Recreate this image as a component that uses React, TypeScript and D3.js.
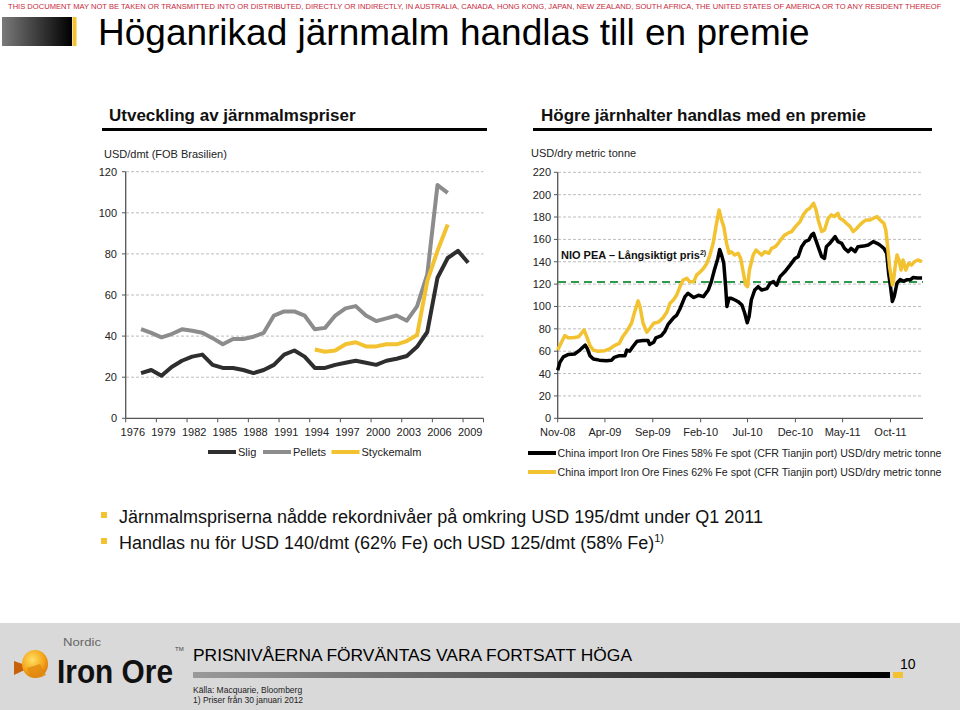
import React, { useLayoutEffect, useRef } from 'react';
import * as d3 from 'd3';

const FONT = '"Liberation Sans", Arial, Helvetica, sans-serif';

// ---------- Left chart data (USD/dmt FOB Brasilien) ----------
const catYears = [1976, 1977, 1978, 1979, 1980, 1981, 1982, 1983, 1984, 1985, 1986, 1987, 1988, 1989, 1990, 1991, 1992, 1993, 1994, 1995, 1996, 1997, 1998, 1999, 2000, 2001, 2002, 2003, 2004, 2005, 2006, 2007, 2008, 2009, 2010];
const leftTickYears = [1976, 1979, 1982, 1985, 1988, 1991, 1994, 1997, 2000, 2003, 2006, 2009];
const leftYTicks = [0, 20, 40, 60, 80, 100, 120];

const sligStart = 1977;
const sligValues = [22, 23.5, 20.7, 25, 28, 30, 31, 26, 24.5, 24.5, 23.5, 22, 23.5, 26, 31, 33, 30, 24.5, 24.5, 26, 27, 28, 27, 26, 28, 29, 30.3, 34.8, 42, 68.4, 78, 81.5, 75.7];
const pelletsStart = 1977;
const pelletsValues = [43.4, 41.6, 39.4, 41, 43.3, 42.6, 41.6, 39, 36, 38.6, 38.6, 39.7, 41.6, 50, 52, 52, 50, 43.3, 44, 50, 53.5, 54.6, 50, 47.3, 48.6, 50, 47.5, 54.5, 70, 113.5, 109.7];
const styckeStart = 1994;
const styckeValues = [33.5, 32.4, 33, 36, 37, 35, 35, 36, 36, 37.6, 40.5, 66.7, 81.5, 94.3];

const leftLegend = ['Slig', 'Pellets', 'Styckemalm'];

// ---------- Right chart data (USD/dry metric tonne) ----------
const fe58Dates = ['2008-11-01', '2008-11-08', '2008-11-19', '2008-12-04', '2008-12-25', '2009-01-11', '2009-01-22', '2009-01-28', '2009-02-04', '2009-02-12', '2009-02-23', '2009-03-14', '2009-04-05', '2009-04-22', '2009-05-01', '2009-05-17', '2009-06-04', '2009-06-10', '2009-06-19', '2009-06-29', '2009-07-13', '2009-08-01', '2009-08-17', '2009-08-22', '2009-09-04', '2009-09-11', '2009-09-29', '2009-10-10', '2009-10-20', '2009-11-07', '2009-11-16', '2009-11-27', '2009-12-13', '2009-12-23', '2010-01-10', '2010-01-25', '2010-02-10', '2010-02-26', '2010-03-07', '2010-03-17', '2010-03-28', '2010-04-03', '2010-04-09', '2010-04-16', '2010-04-22', '2010-04-26', '2010-05-03', '2010-05-10', '2010-05-22', '2010-06-01', '2010-06-13', '2010-06-22', '2010-06-30', '2010-07-06', '2010-07-13', '2010-07-24', '2010-08-04', '2010-08-15', '2010-09-01', '2010-09-11', '2010-09-22', '2010-10-02', '2010-10-13', '2010-10-28', '2010-11-14', '2010-11-30', '2010-12-10', '2010-12-21', '2011-01-01', '2011-01-13', '2011-01-22', '2011-01-28', '2011-02-08', '2011-02-23', '2011-03-04', '2011-03-10', '2011-03-21', '2011-04-07', '2011-04-16', '2011-04-28', '2011-05-07', '2011-05-19', '2011-05-28', '2011-06-10', '2011-06-19', '2011-07-07', '2011-07-22', '2011-08-07', '2011-08-19', '2011-08-28', '2011-09-10', '2011-09-19', '2011-09-25', '2011-10-01', '2011-10-07', '2011-10-13', '2011-10-22', '2011-11-01', '2011-11-13', '2011-11-22', '2011-12-04', '2011-12-13', '2011-12-25', '2012-01-10'];
const fe58Values = [43, 50, 55, 57, 57.5, 61, 64, 65.5, 62, 56, 53, 52, 51.5, 52, 54.5, 56, 56, 61, 60, 64, 69, 69.5, 69.5, 66, 68, 72, 74, 78, 84, 90, 92, 98, 108.8, 111.8, 108, 110, 108.8, 115, 122, 132.6, 143, 151, 146, 138.6, 117.8, 100, 107.3, 107.3, 105.8, 104.3, 101.3, 93.9, 85.5, 91, 105.8, 114.7, 117.7, 114.7, 116, 120.7, 122.2, 119, 126.7, 131, 137, 143, 144.6, 153.5, 157.9, 159.5, 164, 165.4, 156.5, 144.6, 143, 153.5, 156.5, 162.5, 158, 156.5, 152, 149, 152, 149, 153.5, 154, 155, 158, 156.5, 155, 152, 147.6, 129.8, 117.9, 104.5, 109, 121, 124, 122.5, 124, 124, 126, 125.5, 125.5];

const fe62Dates = ['2008-11-01', '2008-11-13', '2008-11-24', '2008-12-04', '2008-12-20', '2009-01-07', '2009-01-16', '2009-01-24', '2009-02-02', '2009-02-12', '2009-02-23', '2009-03-10', '2009-04-01', '2009-04-16', '2009-05-01', '2009-05-17', '2009-05-28', '2009-06-10', '2009-06-25', '2009-07-05', '2009-07-16', '2009-07-22', '2009-08-01', '2009-08-13', '2009-08-22', '2009-09-04', '2009-09-19', '2009-10-04', '2009-10-16', '2009-10-26', '2009-11-06', '2009-11-16', '2009-11-27', '2009-12-07', '2009-12-19', '2009-12-28', '2010-01-10', '2010-01-19', '2010-01-31', '2010-02-10', '2010-02-21', '2010-03-01', '2010-03-13', '2010-03-22', '2010-04-01', '2010-04-09', '2010-04-16', '2010-04-25', '2010-05-03', '2010-05-10', '2010-05-21', '2010-06-01', '2010-06-09', '2010-06-16', '2010-06-25', '2010-07-01', '2010-07-07', '2010-07-19', '2010-07-28', '2010-08-15', '2010-08-25', '2010-09-07', '2010-09-16', '2010-09-28', '2010-10-07', '2010-10-19', '2010-10-28', '2010-11-10', '2010-11-19', '2010-12-01', '2010-12-16', '2010-12-26', '2011-01-07', '2011-01-16', '2011-01-28', '2011-02-05', '2011-02-12', '2011-02-23', '2011-03-04', '2011-03-16', '2011-03-26', '2011-04-04', '2011-04-16', '2011-04-22', '2011-05-02', '2011-05-13', '2011-05-25', '2011-06-04', '2011-06-16', '2011-06-25', '2011-07-07', '2011-07-16', '2011-07-28', '2011-08-07', '2011-08-19', '2011-08-28', '2011-09-10', '2011-09-16', '2011-09-22', '2011-09-28', '2011-10-07', '2011-10-10', '2011-10-16', '2011-10-22', '2011-10-28', '2011-11-04', '2011-11-10', '2011-11-19', '2011-11-28', '2011-12-07', '2011-12-16', '2011-12-28', '2012-01-10'];
const fe62Values = [61, 68, 74, 72, 72, 73, 76, 79, 73, 65, 61, 60, 60.5, 62, 65, 67, 73, 78, 85, 95, 105, 100, 85, 77, 80, 85, 86, 90, 95, 102.8, 105.8, 110, 117.7, 123.7, 125.2, 122.2, 122.2, 128, 131, 134, 138.6, 144.5, 156.5, 171.4, 186.3, 177.4, 171.4, 156.5, 147.6, 149, 146, 147.6, 143, 132.6, 119.2, 117.7, 132.6, 146, 150.5, 146, 149, 147.6, 152, 153.5, 156.5, 161, 164, 166, 167, 171.4, 175.9, 181.9, 186.3, 187.8, 192.3, 186.3, 177.4, 167, 168.4, 178.9, 181.9, 180.4, 183.3, 178.9, 177.4, 174.4, 171.4, 167, 170, 173, 175.9, 177.4, 177.4, 178.9, 180.4, 177.4, 174.4, 168.4, 153.5, 135.6, 119.2, 122, 135.6, 146, 141.6, 132.6, 141.6, 132.6, 138.6, 137, 140, 141.6, 140];

const rightYTicks = [0, 20, 40, 60, 80, 100, 120, 140, 160, 180, 200, 220];
const rightXTicks = ['2008-11-01', '2009-04-01', '2009-09-01', '2010-02-01', '2010-07-01', '2010-12-01', '2011-05-01', '2011-10-01'];
const longTermPrice = 122;
const rightLegend = [
  'China import Iron Ore Fines 58% Fe spot (CFR Tianjin port) USD/dry metric tonne',
  'China import Iron Ore Fines 62% Fe spot (CFR Tianjin port) USD/dry metric tonne',
];

const bullets = [
  'Järnmalmspriserna nådde rekordnivåer på omkring USD 195/dmt under Q1 2011',
  'Handlas nu för USD 140/dmt (62% Fe) och USD 125/dmt (58% Fe)',
];

const DISCLAIMER = 'THIS DOCUMENT MAY NOT BE TAKEN OR TRANSMITTED INTO OR DISTRIBUTED, DIRECTLY OR INDIRECTLY, IN AUSTRALIA, CANADA, HONG KONG, JAPAN, NEW ZEALAND, SOUTH AFRICA, THE UNITED STATES OF AMERICA OR TO ANY RESIDENT THEREOF';

const C_SLIG = '#2e2e2e';
const C_PELL = '#8c8c8c';
const C_GOLD = '#F2C230';
const C_BLACK = '#000000';
const C_GREEN = '#2F9A4C';
const C_GRID = '#bdbdbd';
const C_AXIS = '#555555';

export default function App() {
  const discRef = useRef<SVGTextElement | null>(null);
  useLayoutEffect(() => {
    const el = discRef.current;
    if (!el) return;
    const len = el.getComputedTextLength();
    if (len > 0) el.setAttribute('transform', `translate(8,8.5) scale(${932 / len},1)`);
  }, []);

  // ---- left chart scales
  const lx = d3.scaleBand<number>().domain(catYears).range([125.7, 483.5]).padding(0);
  const lxc = (y: number) => (lx(y) as number) + lx.bandwidth() / 2;
  const ly = d3.scaleLinear().domain([0, 120]).range([418.3, 171.7]);
  const mkLeft = (start: number, vals: number[]) =>
    d3.line<number>().x((_, i) => lxc(start + i)).y((v) => ly(v))(vals) as string;

  // ---- right chart scales
  const parse = d3.timeParse('%Y-%m-%d');
  const rx = d3.scaleTime().domain([parse('2008-11-01') as Date, parse('2012-01-13') as Date]).range([557.7, 923]);
  const ry = d3.scaleLinear().domain([0, 220]).range([418.3, 172.3]);
  const fmt = d3.timeFormat('%b-%y');
  const mkRight = (dates: string[], vals: number[]) =>
    d3.line<number>().x((_, i) => rx(parse(dates[i]) as Date)).y((v) => ry(v))(vals) as string;

  const leftTickMarks = [...leftTickYears.map((y) => lx(y) as number), 483.5];

  return (
    <div style={{ position: 'fixed', left: 0, top: 0, width: 960, height: 710, background: '#fff' }}>
      <svg width={960} height={710} style={{ display: 'block', fontFamily: FONT }}>
        <defs>
          <linearGradient id="hdrGrad" x1="0" x2="1" y1="0" y2="0">
            <stop offset="0" stopColor="#7a7a7a" />
            <stop offset="1" stopColor="#000" />
          </linearGradient>
          <linearGradient id="ftrGrad" x1="0" x2="1" y1="0" y2="0">
            <stop offset="0" stopColor="#9a9a9a" />
            <stop offset="1" stopColor="#000" />
          </linearGradient>
          <radialGradient id="logoGrad" cx="0.4" cy="0.35" r="0.7">
            <stop offset="0" stopColor="#FFE066" />
            <stop offset="0.6" stopColor="#F6A81C" />
            <stop offset="1" stopColor="#D9740A" />
          </radialGradient>
        </defs>

        {/* disclaimer */}
        <text ref={discRef} x={0} y={0} transform="translate(8,8.5) scale(0.84,1)" fontSize={7.8} fill="#C8283A">{DISCLAIMER}</text>

        {/* title bar */}
        <rect x={2} y={17} width={70} height={29} fill="url(#hdrGrad)" />
        <rect x={72.5} y={17} width={4} height={29} fill={C_GOLD} />
        <text x={98} y={44.5} fontSize={37} fill="#000">Höganrikad järnmalm handlas till en premie</text>

        {/* section headings */}
        <text x={109} y={121} fontSize={17} fontWeight="bold" fill="#111">Utveckling av järnmalmspriser</text>
        <rect x={102} y={128} width={385} height={3} fill="#000" />
        <text x={541} y={121} fontSize={17} fontWeight="bold" fill="#111">Högre järnhalter handlas med en premie</text>
        <rect x={533} y={128} width={399} height={3} fill="#000" />

        {/* ---------- LEFT CHART ---------- */}
        <text x={104} y={158} fontSize={11} fill="#222">USD/dmt  (FOB Brasilien)</text>
        {leftYTicks.map((t) => (
          <g key={'ly' + t}>
            {t > 0 && (
              <line x1={126} x2={483.5} y1={ly(t)} y2={ly(t)} stroke={C_GRID} strokeDasharray="3,2" strokeWidth={1} />
            )}
            <line x1={122} x2={125.7} y1={ly(t)} y2={ly(t)} stroke={C_AXIS} strokeWidth={1} />
            <text x={117} y={ly(t) + 4} fontSize={11} textAnchor="end" fill="#222">{t}</text>
          </g>
        ))}
        <line x1={125.7} x2={125.7} y1={ly(120)} y2={ly(0)} stroke={C_AXIS} strokeWidth={1.3} />
        <line x1={125.7} x2={483.5} y1={ly(0)} y2={ly(0)} stroke={C_AXIS} strokeWidth={1.3} />
        {leftTickMarks.map((x, i) => (
          <line key={'ltm' + i} x1={x} x2={x} y1={ly(0)} y2={ly(0) + 4} stroke={C_AXIS} strokeWidth={1} />
        ))}
        {leftTickYears.map((y) => (
          <text key={'lxt' + y} x={lxc(y) + 2} y={436} fontSize={11} textAnchor="middle" fill="#222">{y}</text>
        ))}
        <path d={mkLeft(sligStart, sligValues)} fill="none" stroke={C_SLIG} strokeWidth={4} strokeLinejoin="round" />
        <path d={mkLeft(pelletsStart, pelletsValues)} fill="none" stroke={C_PELL} strokeWidth={4} strokeLinejoin="round" />
        <path d={mkLeft(styckeStart, styckeValues)} fill="none" stroke={C_GOLD} strokeWidth={4} strokeLinejoin="round" />

        {/* left legend */}
        {[
          { x: 208, c: C_SLIG },
          { x: 263, c: C_PELL },
          { x: 331.5, c: C_GOLD },
        ].map((l, i) => (
          <g key={'ll' + i}>
            <line x1={l.x} x2={l.x + 28} y1={452} y2={452} stroke={l.c} strokeWidth={4} />
            <text x={l.x + 30} y={456} fontSize={11} fill="#222">{leftLegend[i]}</text>
          </g>
        ))}

        {/* ---------- RIGHT CHART ---------- */}
        <text x={531} y={157} fontSize={11} fill="#222">USD/dry metric tonne</text>
        {rightYTicks.map((t) => (
          <g key={'ry' + t}>
            {t > 0 && (
              <line x1={558} x2={923} y1={ry(t)} y2={ry(t)} stroke={C_GRID} strokeDasharray="3,2" strokeWidth={1} />
            )}
            <line x1={554} x2={557.7} y1={ry(t)} y2={ry(t)} stroke={C_AXIS} strokeWidth={1} />
            <text x={551} y={ry(t) + 4} fontSize={11} textAnchor="end" fill="#222">{t}</text>
          </g>
        ))}
        <line x1={557.7} x2={557.7} y1={ry(220)} y2={ry(0)} stroke={C_AXIS} strokeWidth={1.3} />
        <line x1={557.7} x2={923} y1={ry(0)} y2={ry(0)} stroke={C_AXIS} strokeWidth={1.3} />
        {rightXTicks.map((d) => {
          const x = rx(parse(d) as Date);
          return (
            <g key={'rxt' + d}>
              <line x1={x} x2={x} y1={ry(0)} y2={ry(0) + 4} stroke={C_AXIS} strokeWidth={1} />
              <text x={x} y={436} fontSize={11} textAnchor="middle" fill="#222">{fmt(parse(d) as Date)}</text>
            </g>
          );
        })}
        <line x1={558} x2={923} y1={ry(longTermPrice)} y2={ry(longTermPrice)} stroke={C_GREEN} strokeWidth={2} strokeDasharray="8,5" />
        <path d={mkRight(fe58Dates, fe58Values)} fill="none" stroke={C_BLACK} strokeWidth={3.5} strokeLinejoin="round" />
        <path d={mkRight(fe62Dates, fe62Values)} fill="none" stroke={C_GOLD} strokeWidth={3.5} strokeLinejoin="round" />
        <text x={561} y={259} fontSize={11} fontWeight="bold" fill="#111">
          NIO PEA – Långsiktigt pris<tspan fontSize={7} dy={-4}>2)</tspan>
        </text>

        {/* right legend */}
        {[C_BLACK, C_GOLD].map((c, i) => (
          <g key={'rl' + i}>
            <line x1={528} x2={556} y1={453 + i * 19} y2={453 + i * 19} stroke={c} strokeWidth={4} />
            <text x={557.5} y={457 + i * 19} fontSize={10.5} fill="#222" textLength={384} lengthAdjust="spacingAndGlyphs">{rightLegend[i]}</text>
          </g>
        ))}

        {/* bullets */}
        {bullets.map((b, i) => (
          <g key={'b' + i}>
            <rect x={101} y={512 + i * 26} width={6} height={6} fill={C_GOLD} />
            <text x={119} y={523 + i * 26} fontSize={18} fill="#111">
              {b}
              {i === 1 && <tspan fontSize={11} dy={-7}>1)</tspan>}
            </text>
          </g>
        ))}

        {/* footer */}
        <rect x={0} y={623} width={960} height={87} fill="#d9d9d9" />
        <g>
          <path d="M14 661 L31 667 L14 675 Z" fill="#C8620A" />
          <ellipse cx={35} cy={664} rx={13} ry={14} fill="url(#logoGrad)" />
          <path d="M27 668 L40 664 L46 675 Q38 680 30 676 Z" fill="#E08A10" opacity={0.8} />
          <text x={63} y={646} fontSize={11} fill="#666" textLength={38} lengthAdjust="spacingAndGlyphs">Nordic</text>
          <text x={57} y={683} fontSize={33} fontWeight="bold" fill="#111" textLength={116} lengthAdjust="spacingAndGlyphs">Iron Ore</text>
          <text x={175} y={651} fontSize={6} fill="#444">TM</text>
        </g>
        <text x={193} y={661} fontSize={17} fill="#000" textLength={439} lengthAdjust="spacingAndGlyphs">PRISNIVÅERNA  FÖRVÄNTAS VARA FORTSATT HÖGA</text>
        <rect x={193} y={672} width={697} height={6} fill="url(#ftrGrad)" />
        <rect x={893} y={672} width={10} height={6} fill={C_GOLD} />
        <text x={900} y={669} fontSize={14} fill="#000">10</text>
        <text x={193} y={693} fontSize={8.5} fill="#222">Källa: Macquarie, Bloomberg</text>
        <text x={193} y={703} fontSize={8.5} fill="#222">1) Priser från 30 januari 2012</text>
      </svg>
    </div>
  );
}
